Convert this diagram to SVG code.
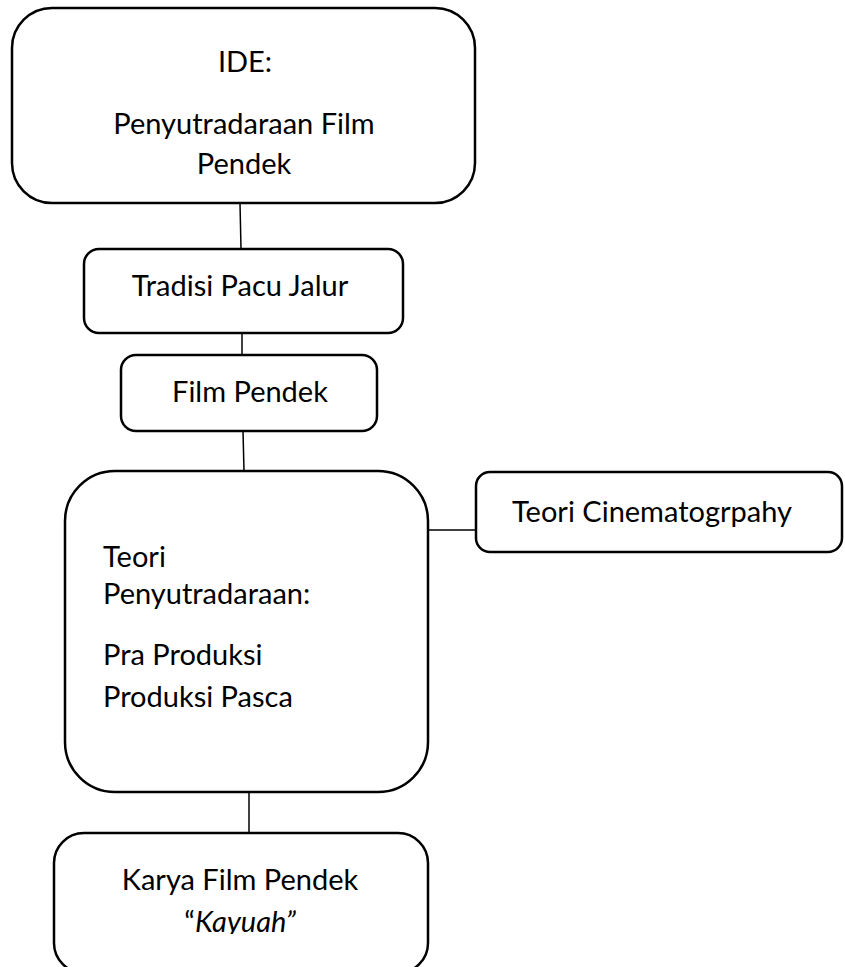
<svg xmlns="http://www.w3.org/2000/svg" width="845" height="967" viewBox="0 0 845 967">
<style>
.box{fill:#fff;stroke:#000;stroke-width:2.5}
.ln{stroke:#000;stroke-width:1.5;fill:none}
text{font-family:Lato,"Liberation Sans",sans-serif;font-size:29px;fill:#000}
.c{text-anchor:middle}
</style>
<defs><clipPath id="clipK"><rect x="0" y="0" width="845" height="934"/></clipPath></defs>
<rect width="845" height="967" fill="#fff"/>
<g id="connectors">
<line class="ln" x1="240" y1="203" x2="241" y2="249"/>
<line class="ln" x1="242" y1="333" x2="242" y2="355"/>
<line class="ln" x1="243" y1="431" x2="244" y2="471"/>
<line class="ln" x1="427" y1="530" x2="476" y2="530"/>
<line class="ln" x1="249" y1="792" x2="249" y2="833"/>
</g>
<g id="ide">
<rect class="box" x="12" y="8" width="463" height="195" rx="40"/>
<text class="c" x="245" y="72">IDE:</text>
<text class="c" x="244" y="134">Penyutradaraan Film</text>
<text class="c" x="244" y="174">Pendek</text>
</g>
<g id="tradisi">
<rect class="box" x="84" y="249" width="319" height="84" rx="15"/>
<text class="c" x="240" y="296">Tradisi Pacu Jalur</text>
</g>
<g id="film">
<rect class="box" x="121" y="355" width="256" height="76" rx="15"/>
<text class="c" x="250" y="402">Film Pendek</text>
</g>
<g id="teori">
<rect class="box" x="65" y="471" width="363" height="321" rx="50"/>
<text x="103" y="567">Teori</text>
<text x="103" y="604">Penyutradaraan:</text>
<text x="103" y="665">Pra Produksi</text>
<text x="103" y="707">Produksi Pasca</text>
</g>
<g id="cinema">
<rect class="box" x="476" y="472" width="366" height="80" rx="14"/>
<text class="c" x="652" y="522">Teori Cinematogrpahy</text>
</g>
<g id="karya">
<rect class="box" x="54" y="833" width="374" height="140" rx="30"/>
<text class="c" x="240" y="890">Karya Film Pendek</text>
<text class="c" x="240" y="932" clip-path="url(#clipK)">“<tspan font-style="italic">Kayuah”</tspan></text>
</g>
</svg>
